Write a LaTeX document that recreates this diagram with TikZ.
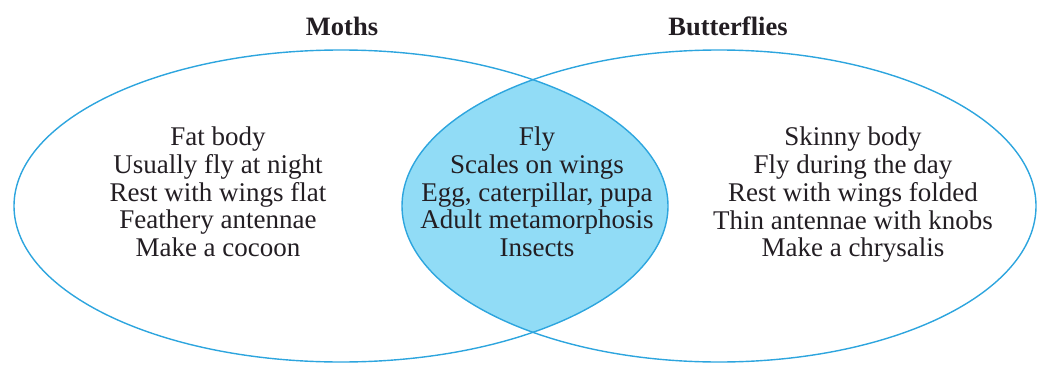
\documentclass[tikz,border=0pt]{standalone}
\usepackage{fontspec}
\setmainfont{Liberation Serif}
\definecolor{vennline}{RGB}{45,165,222}
\definecolor{vennfill}{RGB}{145,220,246}
\definecolor{txt}{RGB}{35,30,35}
\begin{document}
\begin{tikzpicture}[x=1pt,y=-1pt,
  set/.style={draw=vennline,line width=1.4pt},
  items/.style={align=center,text=txt,font=\fontsize{27}{27.75}\selectfont,inner sep=0pt},
  title/.style={text=txt,font=\fontsize{26.5}{28}\selectfont\bfseries,inner sep=0pt}]
\useasboundingbox (0,0) rectangle (1038,364);
\begin{scope}
  \clip (341,206) ellipse [x radius=327, y radius=156];
  \fill[vennfill] (719,206) ellipse [x radius=317, y radius=156];
\end{scope}
\draw[set] (341,206) ellipse [x radius=327, y radius=156];
\draw[set] (719,206) ellipse [x radius=317, y radius=156];
\node[title] (tm) at (342,26) {Moths};
\node[title] (tb) at (728,26) {Butterflies};
\node[items] (lm) at (218,192) {Fat body\\Usually fly at night\\Rest with wings flat\\Feathery antennae\\Make a cocoon};
\node[items] (lc) at (537,192) {Fly\\Scales on wings\\Egg, caterpillar, pupa\\Adult metamorphosis\\Insects};
\node[items] (lb) at (853,195) {Skinny body\\Fly during the day\\Rest with wings folded\\Thin antennae with knobs\\Make a chrysalis};
\end{tikzpicture}
\end{document}
